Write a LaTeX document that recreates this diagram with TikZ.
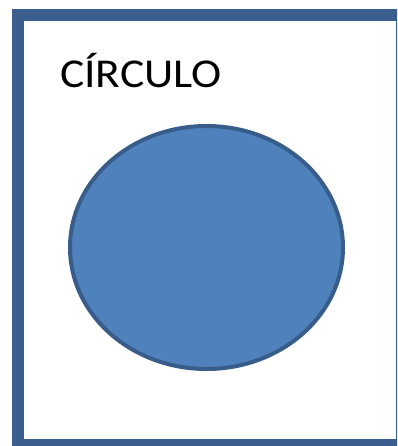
\documentclass[tikz,border=0pt]{standalone}
\usepackage{fontspec}
\setmainfont{Carlito}
\usetikzlibrary{shapes.geometric}
\definecolor{framecol}{HTML}{3A5E8E}
\definecolor{ellfill}{HTML}{4F81BD}
\definecolor{elldraw}{HTML}{385D8A}
\tikzset{
  frame/.style={draw=framecol, line width=12pt},
  shape1/.style={draw=elldraw, fill=ellfill, line width=4pt},
  title/.style={anchor=base west, inner sep=0pt, font=\fontsize{41}{41}\selectfont, text=black}
}
\begin{document}
\begin{tikzpicture}[x=1pt,y=-1pt]
\useasboundingbox (0,0) rectangle (397,446);
\clip (0,0) rectangle (397,446);
\draw[frame] (18,15) rectangle (402,445);
\node[shape1, ellipse, minimum width=273pt, minimum height=243pt, inner sep=0pt] (circ) at (206.5,247.5) {};
\node[title, xscale=1.11] (lbl) at (60,87.5) {CÍRCULO};
\end{tikzpicture}
\end{document}
